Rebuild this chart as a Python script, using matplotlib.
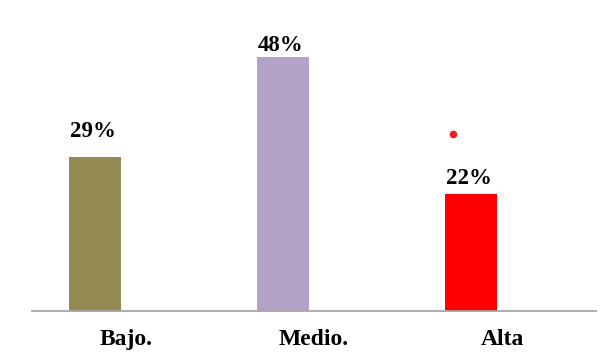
import matplotlib.pyplot as plt

# --- Data ---
categories = ["Bajo.", "Medio.", "Alta"]
percentages = [29, 48, 22]
bar_colors = ["#948A54", "#B3A2C7", "#FF0000"]
label_gaps = [14.5, 4.7, 7.6]   # points between bar top and its label

# lone marker sitting above the "Alta" group
marker_x = 1.74
marker_y = 33.4

plt.rcParams['font.family'] = ['Liberation Serif', 'DejaVu Serif']

fig = plt.figure(figsize=(6.16, 3.63), dpi=100)
ax = fig.add_axes([32 / 616, 52.3 / 363, 564 / 616, 310.7 / 363])

# bars sit left of each category slot centre
positions = range(len(categories))
bar_x = [p - 0.165 for p in positions]
bars = ax.bar(bar_x, percentages, width=0.272, color=bar_colors, zorder=2)

for rect, val, gap in zip(bars, percentages, label_gaps):
    ax.annotate(f"{val}%", xy=(rect.get_x() + rect.get_width() / 2 - 0.012, val),
                xytext=(0, gap), textcoords='offset points',
                ha='center', va='baseline', fontsize=16.5, fontweight='bold',
                color='black')

ax.plot([marker_x], [marker_y], 'o', color='#E82020', markersize=5.5,
        markeredgewidth=0, zorder=3)

ax.set_xlim(-0.5, 2.5)
ax.set_ylim(0, 58.8)
ax.set_xticks(list(positions))
ax.set_xticklabels(categories, fontsize=17, fontweight='bold')
ax.tick_params(axis='x', length=0, pad=13.5)
ax.set_yticks([])

for side in ['top', 'right', 'left']:
    ax.spines[side].set_visible(False)
ax.spines['bottom'].set_color('#A6A6A6')
ax.spines['bottom'].set_linewidth(1.3)

fig.savefig("out.png", dpi=100)
